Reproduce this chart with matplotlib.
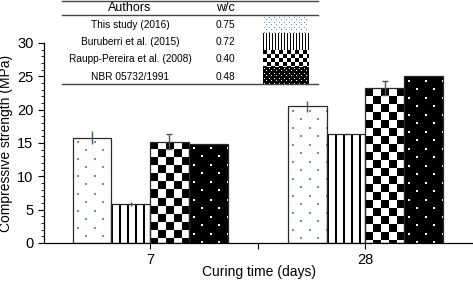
import numpy as np
import matplotlib
matplotlib.use("Agg")
import matplotlib.pyplot as plt
from matplotlib.ticker import MultipleLocator

plt.rcParams['font.family'] = ['Liberation Sans', 'DejaVu Sans']

# --- data ---
days = ['7', '28']
authors = ['This study (2016)', 'Buruberri et al. (2015)',
           'Raupp-Pereira et al. (2008)', 'NBR 05732/1991']
wc = ['0.75', '0.72', '0.40', '0.48']
strength = {
    'This study (2016)': [15.8, 20.5],
    'Buruberri et al. (2015)': [5.9, 16.3],
    'Raupp-Pereira et al. (2008)': [15.2, 23.2],
    'NBR 05732/1991': [14.9, 25.0],
}
errors = {
    'This study (2016)': [1.0, 0.85],
    'Buruberri et al. (2015)': [0.3, 0.15],
    'Raupp-Pereira et al. (2008)': [1.1, 1.05],
    'NBR 05732/1991': [0.0, 0.0],
}
patterns = ['dots_blue', 'vlines', 'checker', 'dots_black']
capsizes = [0, 0, 2.5, 0]


def make_pattern(kind, w, h, small=False):
    """Return an RGB image (h x w) with the fill pattern, 1 cell = 1 pixel."""
    w, h = max(int(round(w)), 1), max(int(round(h)), 1)
    ii, jj = np.mgrid[0:h, 0:w]
    img = np.ones((h, w, 3))
    if kind in ('dots_blue', 'dots_black'):
        if kind == 'dots_black':
            img[:] = 0.0
            dot = (1, 1, 1)
        else:
            dot = (0.36, 0.58, 0.83)
        px, py = (5, 2.5) if small else (17, 8.5)
        size = 1 if small else 2
        for r in range(int(h / py) + 2):
            y0 = int(r * py + py / 2)
            xoff = (r % 2) * px / 2 + px / 4
            for c in range(int(w / px) + 2):
                x0 = int(c * px + xoff)
                img[y0:y0 + size, x0:x0 + size] = dot
    elif kind == 'vlines':
        per = 3 if small else 8
        lw = 1 if small else 2
        img[(jj % per) < lw] = 0.0
    elif kind == 'checker':
        s = 4 if small else 8
        img[((ii // s + jj // s) % 2) == 0] = 0.0
    return img


fig = plt.figure(figsize=(4.73, 2.81), dpi=100)
ax = fig.add_axes([44 / 473, 38 / 281, 429 / 473, 200 / 281])

x = np.arange(1, len(days) + 1)
width = 0.18
offsets = [-0.27, -0.09, 0.09, 0.27]

ax.set_xlim(0.507, 2.5)
ax.set_ylim(0, 30)

for k, name in enumerate(authors):
    xs = x + offsets[k]
    bars = ax.bar(xs, strength[name], width, facecolor='none',
                  edgecolor='none', zorder=1)
    for b in bars:
        bb = b.get_window_extent()
        img = make_pattern(patterns[k], bb.width, bb.height)
        im = ax.imshow(img, extent=(b.get_x(), b.get_x() + b.get_width(), 0, b.get_height()),
                       aspect='auto', interpolation='nearest', zorder=2)
        im.set_clip_path(b)
    ax.bar(xs, strength[name], width, fill=False, edgecolor='#2a2a2a',
           linewidth=0.9, zorder=3)
    ax.errorbar(xs, strength[name], yerr=errors[name], fmt='none',
                ecolor='#555555', elinewidth=1, capsize=capsizes[k],
                capthick=1, zorder=4)

ax.set_xlim(0.507, 2.5)
ax.set_ylim(0, 30)
ax.set_xticks([1, 1.5, 2])
ax.set_xticklabels(['7', '', '28'])
ax.yaxis.set_major_locator(MultipleLocator(5))
ax.yaxis.set_minor_locator(MultipleLocator(1))
ax.tick_params(axis='both', direction='out', labelsize=10.5, length=4, width=0.8)
ax.tick_params(axis='y', which='minor', length=2, width=0.6)
ax.tick_params(axis='x', pad=3)
for s in ['top', 'right']:
    ax.spines[s].set_visible(False)
for s in ['left', 'bottom']:
    ax.spines[s].set_linewidth(0.9)
ax.set_xlabel('Curing time (days)', fontsize=10, labelpad=-1.5)
ax.set_ylabel('Compressive strength (MPa)', fontsize=10)
ax.yaxis.set_label_coords(-0.072, 0.5)

# --- table legend in pixel coordinates ---
tab = fig.add_axes([0, 0, 1, 1], zorder=5)
tab.set_xlim(0, 473)
tab.set_ylim(281, 0)
tab.axis('off')
tab.patch.set_alpha(0)
for yl in [1, 15, 84]:
    tab.plot([62, 318], [yl, yl], color='#444444', lw=1)
tab.text(130, 8, 'Authors', ha='center', va='center', fontsize=9)
tab.text(225, 8, 'w/c', ha='center', va='center', fontsize=9)
for k, name in enumerate(authors):
    yc = 25 + 17.2 * k
    tab.text(130, yc, name, ha='center', va='center', fontsize=7.3)
    tab.text(225, yc, wc[k], ha='center', va='center', fontsize=7.3)
    y0, y1 = 16 + 17 * k, 33 + 17 * k
    tab.imshow(make_pattern(patterns[k], 46, 17, small=True),
               extent=(263, 309, y1, y0), aspect='auto', interpolation='nearest')
tab.set_xlim(0, 473)
tab.set_ylim(281, 0)

fig.savefig('out.png', dpi=100)
